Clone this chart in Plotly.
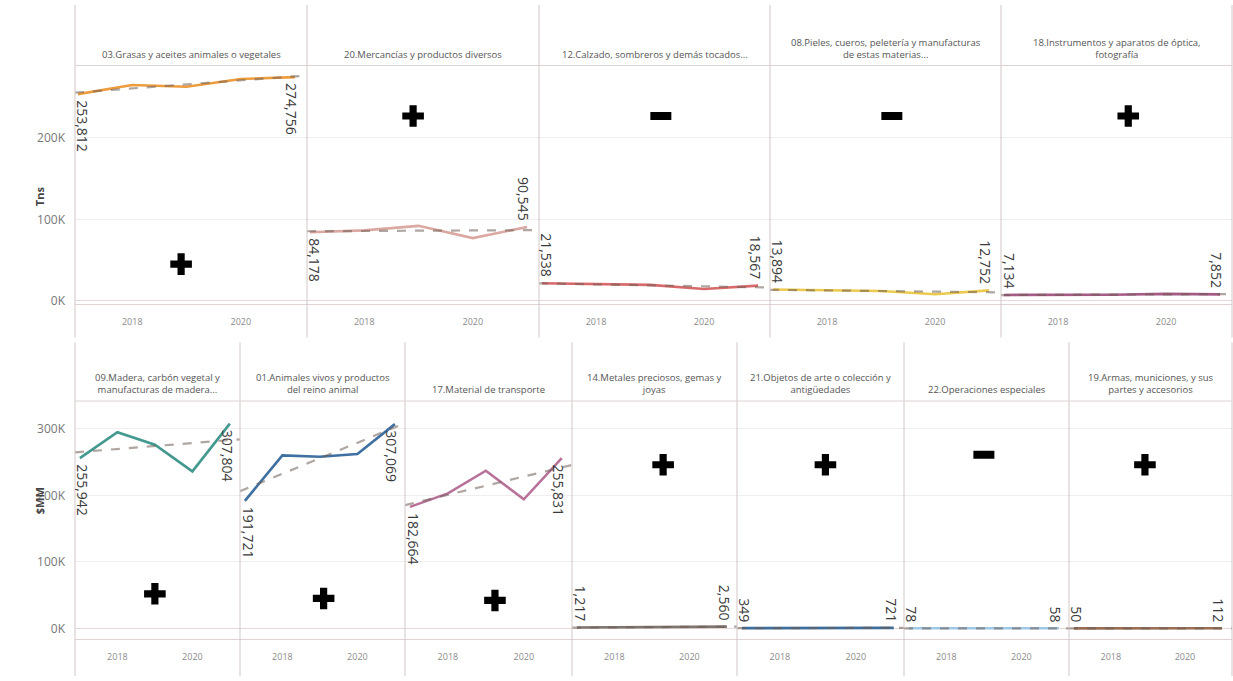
import numpy as np
import plotly.graph_objects as go

years = [2017, 2018, 2019, 2020, 2021]

# ---- top row (Tns) ----
top_titles = [
    "03.Grasas y aceites animales o vegetales",
    "20.Mercancías y productos diversos",
    "12.Calzado, sombreros y demás tocados...",
    "08.Pieles, cueros, peletería y manufacturas<br>de estas materias...",
    "18.Instrumentos y aparatos de óptica,<br>fotografía",
]
grasas = [253812, 265000, 263000, 272500, 274756]
mercancias = [84178, 86500, 92000, 77000, 90545]
calzado = [21538, 20500, 19500, 14500, 18567]
pieles = [13894, 13000, 12000, 8000, 12752]
instrumentos = [7134, 7000, 7300, 8500, 7852]
top_values = [grasas, mercancias, calzado, pieles, instrumentos]
top_signs = ["+", "+", "-", "-", "+"]
top_sign_x = [2018.9, 2018.9, 2019.2, 2019.2, 2019.3]
top_sign_y = [45000, 227000, 227000, 227000, 227000]
top_ticks = [0, 100000, 200000]
top_ticktext = ["0K", "100K", "200K"]

# ---- bottom row ($MM) ----
bottom_titles = [
    "09.Madera, carbón vegetal y<br>manufacturas de madera...",
    "01.Animales vivos y productos<br>del reino animal",
    "17.Material de transporte",
    "14.Metales preciosos, gemas y<br>joyas",
    "21.Objetos de arte o colección y<br>antigüedades",
    "22.Operaciones especiales",
    "19.Armas, municiones, y sus<br>partes y accesorios",
]
madera = [255942, 295000, 276000, 236000, 307804]
animales = [191721, 260000, 258000, 262000, 307069]
transporte = [182664, 203000, 237000, 194000, 255831]
metales = [1217, 1500, 1900, 2100, 2560]
arte = [349, 420, 500, 600, 721]
operaciones = [78, 70, 65, 60, 58]
armas = [50, 70, 85, 95, 112]
bottom_values = [madera, animales, transporte, metales, arte, operaciones, armas]
bottom_signs = ["+", "+", "+", "+", "+", "-", "+"]
bottom_sign_x = [2019.0, 2019.1, 2019.24, 2019.3, 2019.2, 2019.0, 2018.92]
bottom_sign_y = [52000, 45000, 42000, 246000, 246000, 261000, 246000]
bottom_ticks = [0, 100000, 200000, 300000]
bottom_ticktext = ["0K", "100K", "200K", "300K"]

xtick_vals = [2018, 2020]
xtick_text = ["2018", "2020"]

# ---- styling ----
W, H = 1233, 681
top_colors = ["#ee9d3e", "#dba8a2", "#d86a6c", "#ecc94f", "#a65a86"]
bottom_colors = ["#43998f", "#3f70a2", "#b8729a", "#7e7570", "#3e6e9c", "#9fc8e6", "#9a6e55"]
top_label_pos = [("below", "below"), ("below", "above"), ("above", "above"),
                 ("above", "above"), ("above", "above")]
bottom_label_pos = [("below", "below"), ("below", "below"), ("below", "below"),
                    ("above", "above"), ("above", "above"), ("above", "above"),
                    ("above", "above")]
top_edges = [75, 307, 539, 770, 1001, 1232]
bottom_edges = [75, 240, 405, 572, 737, 904, 1069, 1232]
top_plot = (66, 306)       # pixel top / bottom of plot area
bottom_plot = (404, 644)
top_yrange = [-3700, 289000]
bottom_yrange = [-16400, 341800]
top_xrange = [2016.945, 2021.22]
bottom_xrange = [2016.87, 2021.27]

FONT = "Open Sans"
fig = go.Figure()
layout = dict(width=W, height=H, margin=dict(l=0, r=0, t=0, b=0),
              paper_bgcolor="white", plot_bgcolor="white", showlegend=False,
              font=dict(family=FONT, color="#555"))
annotations = []
shapes = []


def px_x(p):
    return p / W


def px_y(p):
    return 1 - p / H


panels = []
for i in range(5):
    panels.append(dict(title=top_titles[i], vals=top_values[i], color=top_colors[i],
                       sign=top_signs[i], sx=top_sign_x[i], sy=top_sign_y[i],
                       x0=top_edges[i], x1=top_edges[i + 1], plot=top_plot,
                       yrange=top_yrange, xrange=top_xrange, ticks=top_ticks,
                       ticktext=top_ticktext, first=(i == 0), pos=top_label_pos[i]))
for i in range(7):
    panels.append(dict(title=bottom_titles[i], vals=bottom_values[i], color=bottom_colors[i],
                       sign=bottom_signs[i], sx=bottom_sign_x[i], sy=bottom_sign_y[i],
                       x0=bottom_edges[i], x1=bottom_edges[i + 1], plot=bottom_plot,
                       yrange=bottom_yrange, xrange=bottom_xrange, ticks=bottom_ticks,
                       ticktext=bottom_ticktext, first=(i == 0), pos=bottom_label_pos[i]))

HALF_LABEL = 8  # half thickness of a rotated value label, px

for k, p in enumerate(panels, start=1):
    sfx = "" if k == 1 else str(k)
    xa, ya = "x" + sfx, "y" + sfx
    layout["xaxis" + sfx] = dict(
        domain=[px_x(p["x0"]), px_x(p["x1"])], range=p["xrange"], anchor=ya,
        tickvals=xtick_vals, ticktext=xtick_text, showgrid=False, zeroline=False,
        showline=True, linecolor="#e2d2d2", linewidth=1, ticks="",
        ticklabelstandoff=9, tickfont=dict(size=9, color="#8a8a8a", family=FONT),
        fixedrange=True)
    layout["yaxis" + sfx] = dict(
        domain=[px_y(p["plot"][1]), px_y(p["plot"][0])], range=p["yrange"], anchor=xa,
        tickvals=p["ticks"], ticktext=p["ticktext"], showticklabels=p["first"],
        showgrid=True, gridcolor="#f0eeee", gridwidth=1,
        zeroline=True, zerolinecolor="#e6d8d8", zerolinewidth=1,
        showline=False, ticks="", ticklabelstandoff=9,
        tickfont=dict(size=12, color="#777", family=FONT), fixedrange=True)

    vals = p["vals"]
    # trend line (least squares) across the full axis
    slope, icpt = np.polyfit(years, vals, 1)
    tx = p["xrange"]
    ty = [slope * t + icpt for t in tx]
    fig.add_trace(go.Scatter(x=years, y=vals, mode="lines", xaxis=xa, yaxis=ya,
                             line=dict(color=p["color"], width=2.6)))
    fig.add_trace(go.Scatter(x=tx, y=ty, mode="lines", xaxis=xa, yaxis=ya,
                             line=dict(color="rgba(110,92,84,0.55)", width=2.2, dash="dash")))
    # sign marker
    if p["sign"] == "+":
        fig.add_trace(go.Scatter(x=[p["sx"]], y=[p["sy"]], mode="markers", xaxis=xa, yaxis=ya,
                                 marker=dict(symbol="cross", size=18, color="black",
                                             line=dict(width=0))))
    else:
        fig.add_trace(go.Scatter(x=[p["sx"]], y=[p["sy"]], mode="markers", xaxis=xa, yaxis=ya,
                                 marker=dict(symbol="line-ew", size=15, color="black",
                                             line=dict(width=8, color="black"))))
    # start / end labels: centred on the point, kept inside the pane
    w = p["x1"] - p["x0"]
    xlo, xhi = p["xrange"]
    for idx, xv in enumerate([years[0], years[-1]]):
        v = vals[0] if idx == 0 else vals[-1]
        off = (xv - xlo) / (xhi - xlo) * w
        if idx == 0:
            centre = max(off, HALF_LABEL)
        else:
            centre = min(off - 3, w - HALF_LABEL)
        where = p["pos"][idx]
        annotations.append(dict(
            x=xv, y=v, xref=xa, yref=ya, text=f"{v:,}", showarrow=False,
            textangle=90, xanchor="center", xshift=centre - off,
            yanchor="top" if where == "below" else "bottom",
            yshift=-4 if where == "below" else 4,
            font=dict(size=14, color="#3a3a3a", family=FONT)))
    # panel header
    annotations.append(dict(
        x=px_x((p["x0"] + p["x1"]) / 2), y=px_y(p["plot"][0] - 3), xref="paper", yref="paper",
        text=p["title"], showarrow=False, xanchor="center", yanchor="bottom",
        font=dict(size=9.5, color="#555", family=FONT)))

# row separators & header lines
for edges, ytop, ybot, yhead in [(top_edges, 5, 340, top_plot[0]),
                                  (bottom_edges, 345, 681, bottom_plot[0])]:
    for e in edges:
        shapes.append(dict(type="line", xref="paper", yref="paper",
                           x0=px_x(e), x1=px_x(e), y0=px_y(ytop), y1=px_y(ybot),
                           line=dict(color="#d3c6c6", width=1)))
    shapes.append(dict(type="line", xref="paper", yref="paper",
                       x0=px_x(edges[0]), x1=px_x(edges[-1]), y0=px_y(yhead), y1=px_y(yhead),
                       line=dict(color="#ddd3d3", width=1)))

# axis titles
annotations.append(dict(x=px_x(30), y=px_y(186), xref="paper", yref="paper", text="<b>Tns</b>",
                        showarrow=False, textangle=-90,
                        font=dict(size=11, color="#444", family=FONT)))
annotations.append(dict(x=px_x(30), y=px_y(520), xref="paper", yref="paper", text="<b>$MM</b>",
                        showarrow=False, textangle=-90,
                        font=dict(size=11, color="#444", family=FONT)))

layout["annotations"] = annotations
layout["shapes"] = shapes
fig.update_layout(**layout)
fig.write_html("out.html", config={"displayModeBar": False},
               post_script="document.body.style.margin='0';document.body.style.padding='0';")
